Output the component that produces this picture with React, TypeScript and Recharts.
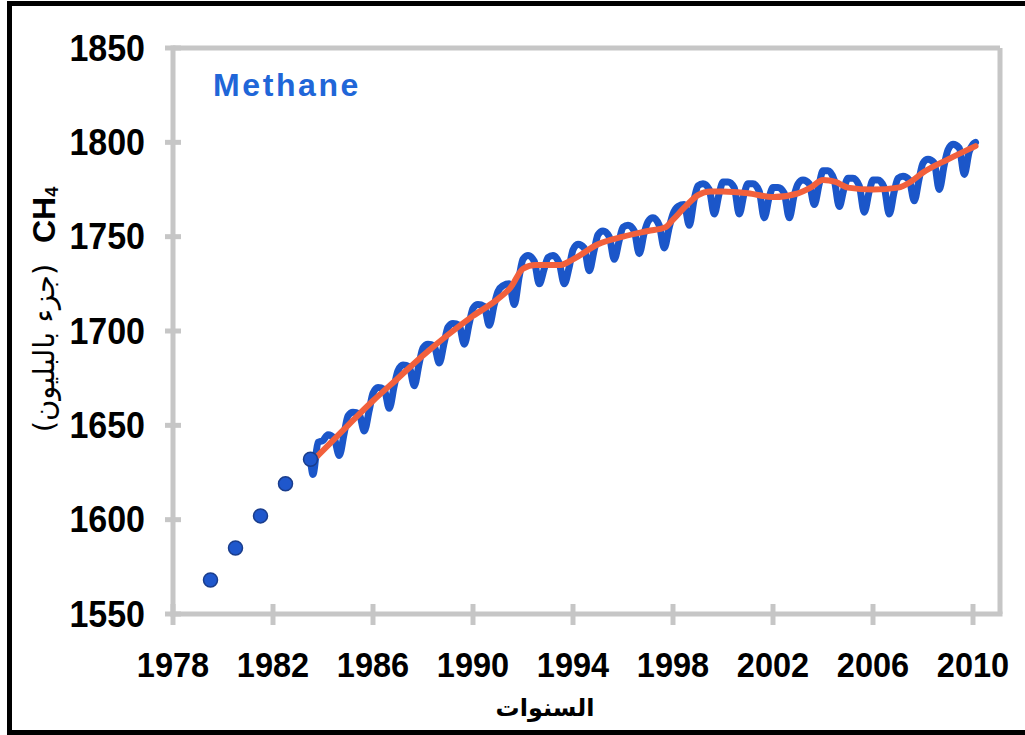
import React from 'react';
import { ComposedChart, Line, Scatter, XAxis, YAxis, ReferenceLine } from 'recharts';

const xTicks = [1978, 1982, 1986, 1990, 1994, 1998, 2002, 2006, 2010];
const yTicks = [1550, 1600, 1650, 1700, 1750, 1800, 1850];

// early annual measurements (dots)
const annualYears = [1979.5, 1980.5, 1981.5, 1982.5, 1983.5];
const annualValues = [1568, 1585, 1602, 1619, 1632];

// monthly-type record, sampled at these fractions of each year
const seasonalPhases = [0, 0.2, 0.45, 0.65, 0.85];
const seasonalHead: [number, number][] = [
  [1983.5, 1632], [1983.6, 1624], [1983.8, 1641],
];
const seasonalRows: number[][] = [
  [1984, 1642, 1645, 1643, 1634, 1646],
  [1985, 1655, 1657, 1656, 1647, 1658],
  [1986, 1667, 1670, 1669, 1659, 1671],
  [1987, 1679, 1682, 1681, 1671, 1683],
  [1988, 1691, 1693, 1692, 1683, 1694],
  [1989, 1702, 1704, 1703, 1693, 1704],
  [1990, 1712, 1714, 1713, 1703, 1714],
  [1991, 1721, 1724, 1725, 1714, 1729],
  [1992, 1738, 1740, 1737, 1725, 1733],
  [1993, 1739, 1740, 1736, 1725, 1734],
  [1994, 1743, 1746, 1744, 1732, 1743],
  [1995, 1751, 1753, 1750, 1738, 1748],
  [1996, 1755, 1756, 1753, 1741, 1752],
  [1997, 1758, 1760, 1756, 1744, 1755],
  [1998, 1762, 1766, 1767, 1756, 1770],
  [1999, 1777, 1778, 1775, 1762, 1773],
  [2000, 1779, 1779, 1776, 1762, 1773],
  [2001, 1778, 1778, 1774, 1760, 1771],
  [2002, 1776, 1776, 1773, 1760, 1772],
  [2003, 1778, 1780, 1778, 1767, 1778],
  [2004, 1785, 1785, 1780, 1766, 1776],
  [2005, 1781, 1781, 1777, 1763, 1774],
  [2006, 1780, 1780, 1776, 1762, 1774],
  [2007, 1781, 1782, 1780, 1769, 1781],
  [2008, 1789, 1791, 1789, 1775, 1788],
  [2009, 1796, 1799, 1797, 1783, 1795],
];
const seasonalTail: [number, number][] = [
  [2010.0, 1799], [2010.1, 1800],
];

// smoothed trend
const trendYears = [1983.8, 1985, 1986, 1987, 1988, 1989, 1990, 1991, 1991.5, 1992, 1992.5, 1993, 1993.5, 1994, 1995, 1996, 1997, 1997.7, 1998, 1998.5, 1999, 1999.5, 2000, 2001, 2002, 2003, 2003.5, 2004, 2004.5, 2005, 2006, 2007, 2007.5, 2008, 2009, 2010.1];
const trendValues = [1634, 1650, 1663, 1675, 1687, 1698, 1708, 1717, 1723, 1733, 1735, 1735, 1735, 1738, 1746, 1750, 1753, 1755, 1759, 1766, 1772, 1774, 1774, 1773, 1771, 1773, 1776, 1780, 1779, 1776, 1775, 1776, 1779, 1784, 1791, 1798];

const annualData = annualYears.map((x, i) => ({ x, y: annualValues[i] }));
const seasonalData = [
  ...seasonalHead.map(([x, y]) => ({ x, y })),
  ...seasonalRows.flatMap((row) => seasonalPhases.map((p, i) => ({ x: row[0] + p, y: row[i + 1] }))),
  ...seasonalTail.map(([x, y]) => ({ x, y })),
];
const trendData = trendYears.map((x, i) => ({ x, y: trendValues[i] }));

const GRAY = '#c6c6c6';
const NUM_FONT = '"Liberation Sans", Arial, sans-serif';
const AR_FONT = '"DejaVu Sans", sans-serif';

const YTick = (props: any) => {
  const { x, y, payload } = props;
  return (
    <g>
      <line x1={x - 8} x2={x + 8} y1={y} y2={y} stroke={GRAY} strokeWidth={5} />
      <g transform={`translate(${x - 28},${y}) scale(1,1.09)`}>
        <text textAnchor="end" dominantBaseline="central" fontFamily={NUM_FONT} fontWeight="bold" fontSize={34} fill="#000">
          {payload.value}
        </text>
      </g>
    </g>
  );
};

const XTick = (props: any) => {
  const { x, y, payload } = props;
  return (
    <g>
      <line x1={x} x2={x} y1={y - 10} y2={y + 11} stroke={GRAY} strokeWidth={5} />
      <g transform={`translate(${x},${y + 51}) scale(1,1.08)`}>
        <text textAnchor="middle" dominantBaseline="central" fontFamily={NUM_FONT} fontWeight="bold" fontSize={32.5} fill="#000">
          {payload.value}
        </text>
      </g>
    </g>
  );
};

const Dot = (props: any) => {
  const { cx, cy } = props;
  return <circle cx={cx} cy={cy} r={7} fill="#1f57cc" stroke="#1a3d8c" strokeWidth={1.5} />;
};

export default function App() {
  return (
    <div style={{ position: 'fixed', left: 0, top: 0, width: 1025, height: 735, background: '#fff', overflow: 'hidden' }}>
      <ComposedChart width={1025} height={735} margin={{ top: 48, right: 25, left: 0, bottom: 61 }}>
        <XAxis
          type="number"
          dataKey="x"
          domain={[1978, 2011.08]}
          ticks={xTicks}
          interval={0}
          allowDataOverflow
          height={60}
          tickSize={0}
          tickMargin={0}
          axisLine={{ stroke: GRAY, strokeWidth: 5, strokeLinecap: 'square' }}
          tickLine={false}
          tick={<XTick />}
        />
        <YAxis
          type="number"
          dataKey="y"
          domain={[1550, 1850]}
          ticks={yTicks}
          interval={0}
          allowDataOverflow
          width={173}
          tickSize={0}
          tickMargin={0}
          axisLine={{ stroke: GRAY, strokeWidth: 5, strokeLinecap: 'square' }}
          tickLine={false}
          tick={<YTick />}
        />
        <ReferenceLine y={1850} stroke={GRAY} strokeWidth={5} />
        <ReferenceLine x={2011.08} stroke={GRAY} strokeWidth={5} />
        <Line
          data={seasonalData}
          dataKey="y"
          type="monotone"
          stroke="#1b56c9"
          strokeWidth={7}
          strokeLinejoin="round"
          strokeLinecap="round"
          dot={false}
          isAnimationActive={false}
        />
        <Line
          data={trendData}
          dataKey="y"
          type="monotone"
          stroke="#f2603c"
          strokeWidth={6}
          strokeLinecap="round"
          dot={false}
          isAnimationActive={false}
        />
        <Scatter data={annualData} dataKey="y" shape={<Dot />} isAnimationActive={false} />
      </ComposedChart>
      <svg width={1025} height={735} style={{ position: 'absolute', left: 0, top: 0, pointerEvents: 'none' }}>
        <text x={213} y={96} fontFamily={NUM_FONT} fontWeight="bold" fontSize={32} letterSpacing={2.6} fill="#2066d8">
          Methane
        </text>
        <text x={545} y={716} textAnchor="middle" fontFamily={AR_FONT} fontWeight="bold" fontSize={24} fill="#000">
          السنوات
        </text>
        <g transform="translate(44,243) rotate(-90)">
          <text x={0} y={0} textAnchor="start" dominantBaseline="central" fontFamily={NUM_FONT} fontWeight="bold" fontSize={32} fill="#000">
            CH<tspan fontSize={18} dy={8}>4</tspan>
          </text>
        </g>
        <g transform="translate(44,348) rotate(-90)">
          <text x={0} y={0} textAnchor="middle" dominantBaseline="central" fontFamily={AR_FONT} fontSize={29} fill="#000">
            (جزء بالبليون)
          </text>
        </g>
      </svg>
      <div style={{ position: 'absolute', left: 7, top: 1, width: 1040, height: 734, border: '5px solid #000', boxSizing: 'border-box', pointerEvents: 'none' }} />
    </div>
  );
}
